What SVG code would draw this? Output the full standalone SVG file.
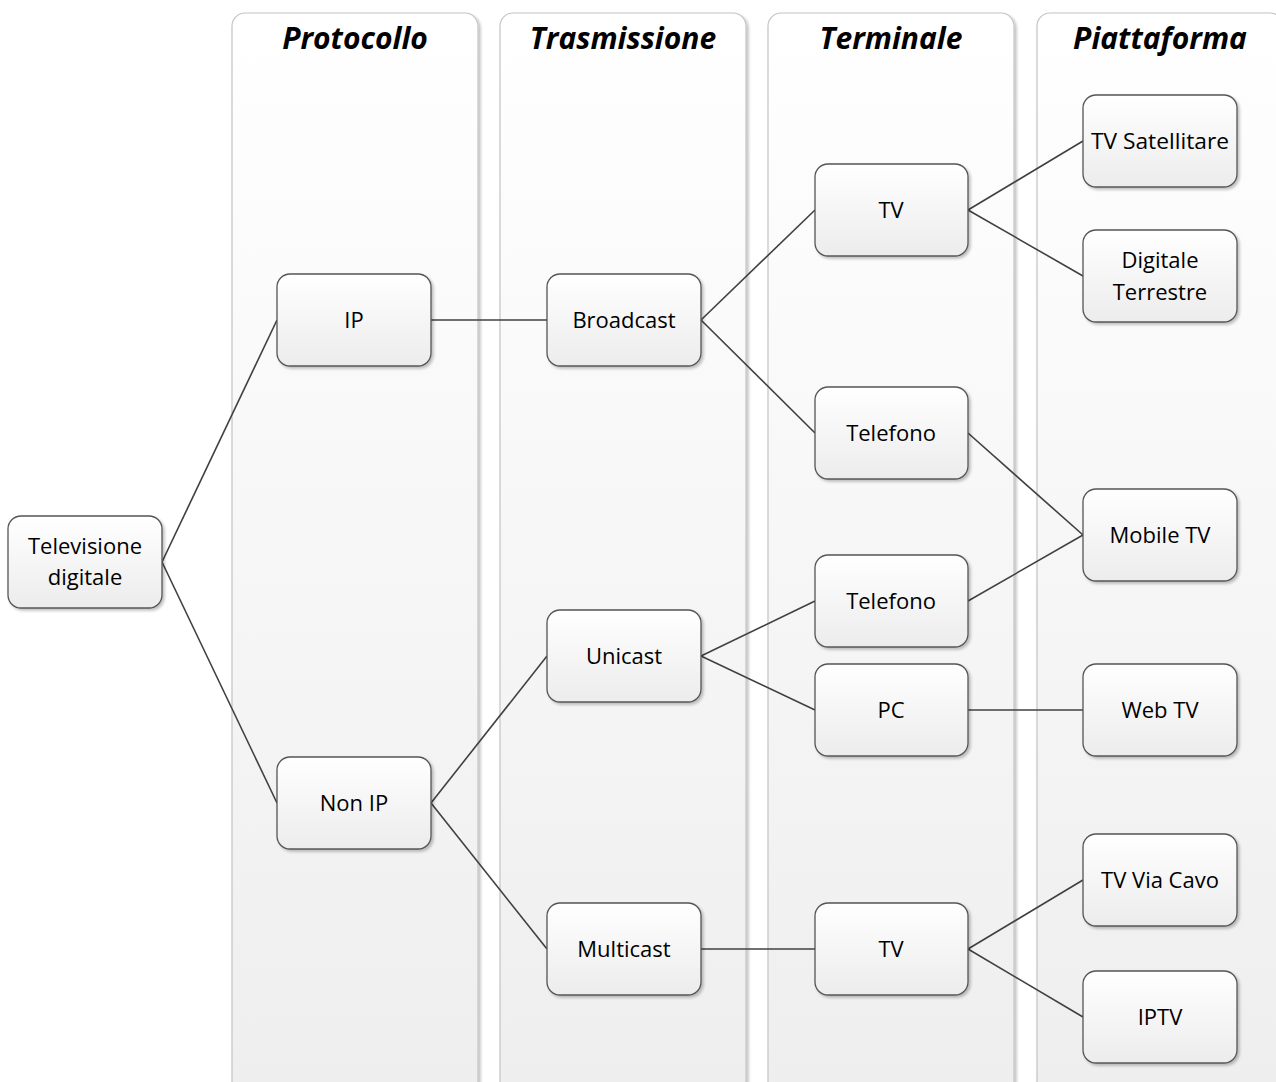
<svg xmlns="http://www.w3.org/2000/svg" width="1276" height="1082" viewBox="0 0 1276 1082">
  <defs>
    <linearGradient id="laneFill" x1="0" y1="0" x2="0" y2="1">
      <stop offset="0" stop-color="#ffffff"/>
      <stop offset="1" stop-color="#eeeeee"/>
    </linearGradient>
    <linearGradient id="nodeFill" x1="0" y1="0" x2="0" y2="1">
      <stop offset="0" stop-color="#ffffff"/>
      <stop offset="1" stop-color="#ececec"/>
    </linearGradient>
    <filter id="shadow" x="-10%" y="-10%" width="125%" height="125%">
      <feGaussianBlur in="SourceAlpha" stdDeviation="1.5"/>
      <feOffset dx="2" dy="2" result="b"/>
      <feComponentTransfer><feFuncA type="linear" slope="0.25"/></feComponentTransfer>
      <feMerge><feMergeNode/><feMergeNode in="SourceGraphic"/></feMerge>
    </filter>
  </defs>
  <style>
    .lane { fill: url(#laneFill); stroke: #c4c4c4; stroke-width: 1.2; filter: url(#shadow); }
    .lane-title { font-family: "Open Sans", "Noto Sans", sans-serif; font-size: 30px; font-weight: bold; font-style: italic; fill: #000; text-anchor: middle; }
    .box { fill: url(#nodeFill); stroke: #555555; stroke-width: 1.3; filter: url(#shadow); }
    .label { font-family: "Open Sans", "Noto Sans", sans-serif; font-size: 22px; fill: #000; text-anchor: middle; }
    .conn { stroke: #404040; stroke-width: 1.6; fill: none; }
  </style>
  <rect width="1276" height="1082" fill="#ffffff"/>

  <!-- swimlanes -->
  <g id="lanes">
    <g id="lane-protocollo">
      <rect class="lane" x="232" y="13" width="246" height="1090" rx="13"/>
      <text class="lane-title" x="355" y="49">Protocollo</text>
    </g>
    <g id="lane-trasmissione">
      <rect class="lane" x="500" y="13" width="246" height="1090" rx="13"/>
      <text class="lane-title" x="623" y="49">Trasmissione</text>
    </g>
    <g id="lane-terminale">
      <rect class="lane" x="768" y="13" width="246" height="1090" rx="13"/>
      <text class="lane-title" x="891" y="49">Terminale</text>
    </g>
    <g id="lane-piattaforma">
      <rect class="lane" x="1037" y="13" width="246" height="1090" rx="13"/>
      <text class="lane-title" x="1160" y="49">Piattaforma</text>
    </g>
  </g>

  <!-- connectors -->
  <g id="connectors">
    <line class="conn" x1="162" y1="562" x2="277" y2="320"/>
    <line class="conn" x1="162" y1="562" x2="277" y2="803"/>
    <line class="conn" x1="431" y1="320" x2="547" y2="320"/>
    <line class="conn" x1="431" y1="803" x2="547" y2="656"/>
    <line class="conn" x1="431" y1="803" x2="547" y2="949"/>
    <line class="conn" x1="701" y1="320" x2="815" y2="210"/>
    <line class="conn" x1="701" y1="320" x2="815" y2="433"/>
    <line class="conn" x1="701" y1="656" x2="815" y2="601"/>
    <line class="conn" x1="701" y1="656" x2="815" y2="710"/>
    <line class="conn" x1="701" y1="949" x2="815" y2="949"/>
    <line class="conn" x1="968" y1="210" x2="1083" y2="141"/>
    <line class="conn" x1="968" y1="210" x2="1083" y2="276"/>
    <line class="conn" x1="968" y1="433" x2="1083" y2="535"/>
    <line class="conn" x1="968" y1="601" x2="1083" y2="535"/>
    <line class="conn" x1="968" y1="710" x2="1083" y2="710"/>
    <line class="conn" x1="968" y1="949" x2="1083" y2="880"/>
    <line class="conn" x1="968" y1="949" x2="1083" y2="1017"/>
  </g>

  <!-- nodes -->
  <g id="node-televisione">
    <rect class="box" x="8" y="516" width="154" height="92" rx="13"/>
    <text class="label" x="85" y="554">Televisione</text>
    <text class="label" x="85" y="585">digitale</text>
  </g>
  <g id="node-ip">
    <rect class="box" x="277" y="274" width="154" height="92" rx="13"/>
    <text class="label" x="354" y="328">IP</text>
  </g>
  <g id="node-nonip">
    <rect class="box" x="277" y="757" width="154" height="92" rx="13"/>
    <text class="label" x="354" y="811">Non IP</text>
  </g>
  <g id="node-broadcast">
    <rect class="box" x="547" y="274" width="154" height="92" rx="13"/>
    <text class="label" x="624" y="328">Broadcast</text>
  </g>
  <g id="node-unicast">
    <rect class="box" x="547" y="610" width="154" height="92" rx="13"/>
    <text class="label" x="624" y="664">Unicast</text>
  </g>
  <g id="node-multicast">
    <rect class="box" x="547" y="903" width="154" height="92" rx="13"/>
    <text class="label" x="624" y="957">Multicast</text>
  </g>
  <g id="node-tv1">
    <rect class="box" x="815" y="164" width="153" height="92" rx="13"/>
    <text class="label" x="891" y="218">TV</text>
  </g>
  <g id="node-telefono1">
    <rect class="box" x="815" y="387" width="153" height="92" rx="13"/>
    <text class="label" x="891" y="441">Telefono</text>
  </g>
  <g id="node-telefono2">
    <rect class="box" x="815" y="555" width="153" height="92" rx="13"/>
    <text class="label" x="891" y="609">Telefono</text>
  </g>
  <g id="node-pc">
    <rect class="box" x="815" y="664" width="153" height="92" rx="13"/>
    <text class="label" x="891" y="718">PC</text>
  </g>
  <g id="node-tv2">
    <rect class="box" x="815" y="903" width="153" height="92" rx="13"/>
    <text class="label" x="891" y="957">TV</text>
  </g>
  <g id="node-satellitare">
    <rect class="box" x="1083" y="95" width="154" height="92" rx="13"/>
    <text class="label" x="1160" y="149" textLength="138" lengthAdjust="spacingAndGlyphs">TV Satellitare</text>
  </g>
  <g id="node-terrestre">
    <rect class="box" x="1083" y="230" width="154" height="92" rx="13"/>
    <text class="label" x="1160" y="268">Digitale</text>
    <text class="label" x="1160" y="300">Terrestre</text>
  </g>
  <g id="node-mobiletv">
    <rect class="box" x="1083" y="489" width="154" height="92" rx="13"/>
    <text class="label" x="1160" y="543">Mobile TV</text>
  </g>
  <g id="node-webtv">
    <rect class="box" x="1083" y="664" width="154" height="92" rx="13"/>
    <text class="label" x="1160" y="718">Web TV</text>
  </g>
  <g id="node-viacavo">
    <rect class="box" x="1083" y="834" width="154" height="92" rx="13"/>
    <text class="label" x="1160" y="888">TV Via Cavo</text>
  </g>
  <g id="node-iptv">
    <rect class="box" x="1083" y="971" width="154" height="92" rx="13"/>
    <text class="label" x="1160" y="1025">IPTV</text>
  </g>
</svg>
